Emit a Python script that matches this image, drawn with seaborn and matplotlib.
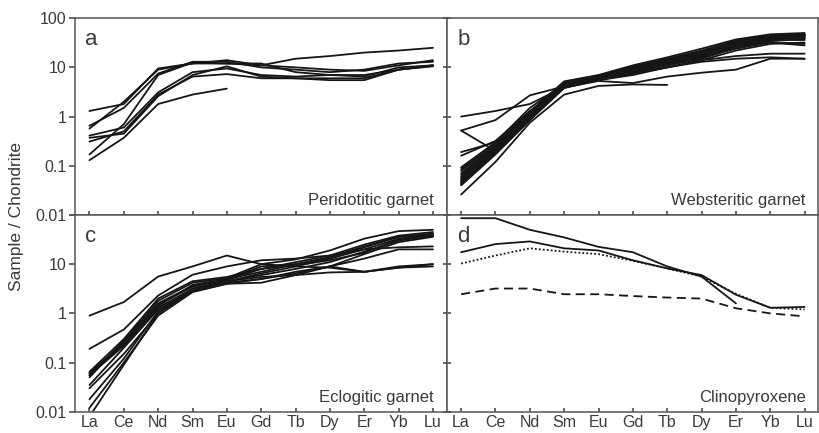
import numpy as np
import pandas as pd
import matplotlib
matplotlib.use("Agg")
import matplotlib.pyplot as plt
from matplotlib.ticker import FixedLocator, FixedFormatter, NullLocator
import seaborn as sns

# ── 데이터 ────────────────────────────────────────────────────────────────
ELEMENTS = ["La", "Ce", "Nd", "Sm", "Eu", "Gd", "Tb", "Dy", "Er", "Yb", "Lu"]
NAN = np.nan

peridotitic = [
    [1.3, 1.8, 9.5, 12, 12, 11, 15, 17, 20, 22, 25],
    [0.65, 1.5, 7.5, 13, 13, 10, 9, 8, 9, 12, 13],
    [0.57, 2.0, 9.0, 12, 14, 11, 10, 9, 8.5, 11, 14],
    [0.41, 0.6, 3.1, 8, 9.5, 7, 6.5, 7, 7, 9, 11],
    [0.31, 0.5, 2.8, 6.5, 7.3, 6, 6, 6, 6, 9, 11],
    [0.37, 0.45, 2.6, 7, 10.5, 6.5, 6, 5.5, 5.5, 9, 10.5],
    [0.17, 0.7, 7, 12.5, 12, 12, 8, 7, 6.5, 10, 11],
    [0.13, 0.37, 1.8, 2.8, 3.7, NAN, NAN, NAN, NAN, NAN, NAN],
]

websteritic = [
    [1.0, 1.3, 1.8, 4.0, 5.5, 7, 10, 14, 22, 30, 32],
    [0.52, 0.85, 2.7, 4.1, 5.6, 8, 12, 16, 25, 35, 38],
    [0.52, 0.2, 1.2, 4.5, 6.5, 9, 13, 19, 32, 42, 45],
    [0.19, 0.3, 1.5, 4.6, 6.2, 9.5, 13, 18, 30, 40, 44],
    [0.16, 0.32, 1.3, 4.3, 6.0, 8.5, 12, 17, 28, 36, 40],
    [0.093, 0.3, 1.25, 5.2, 7.0, 11, 16, 24, 37, 47, 50],
    [0.085, 0.28, 1.2, 5.0, 6.8, 10.5, 15, 22, 35, 45, 48],
    [0.078, 0.26, 1.15, 4.8, 6.6, 10, 14.5, 21, 34, 44, 47],
    [0.07, 0.25, 1.1, 4.7, 6.5, 10, 14, 20, 33, 43, 46],
    [0.065, 0.24, 1.05, 4.5, 6.3, 9.5, 13.5, 19, 32, 42, 45],
    [0.06, 0.23, 1.0, 4.4, 6.2, 9.5, 13, 19, 31, 41, 44],
    [0.057, 0.22, 1.0, 4.3, 6.0, 9, 12.5, 18, 30, 40, 42],
    [0.054, 0.21, 0.95, 4.2, 5.9, 9, 12, 17, 29, 38, 40],
    [0.05, 0.2, 0.95, 4.1, 5.8, 8.5, 12, 17, 28, 37, 38],
    [0.047, 0.19, 0.9, 4.0, 5.7, 8.5, 11.5, 16, 27, 36, 36],
    [0.044, 0.19, 0.9, 3.9, 5.6, 8, 11, 15, 25, 33, 30],
    [0.042, 0.18, 0.85, 4.0, 5.6, 8, 11, 16, 24, 32, 28],
    [0.04, 0.17, 0.85, 3.8, 5.5, 7.5, 10, 14, 17, 19, 19],
    [0.045, 0.2, 1.0, 4.0, 5.5, 7.5, 10, 13, 15, 16, 15],
    [0.05, 0.21, 1.0, 3.9, 5.3, 4.8, 6.5, 7.8, 9, 15, 15],
    [0.026, 0.12, 0.75, 2.8, 4.2, 4.5, 4.4, NAN, NAN, NAN, NAN],
]

eclogitic = [
    [0.9, 1.7, 5.6, 9, 15, 10, 9, 8.5, 7, 9, 10],
    [0.19, 0.47, 2.3, 6.1, 9, 12, 13, 15, 20, 22, 23],
    [0.065, 0.3, 2.0, 4.5, 5.5, 8, 11, 15, 25, 38, 45],
    [0.06, 0.26, 1.6, 3.6, 5, 7, 10, 14, 23, 36, 42],
    [0.055, 0.22, 1.3, 3.2, 4.5, 6, 8, 11, 18, 30, 38],
    [0.05, 0.28, 1.8, 4.2, 5.2, 10, 12.5, 19, 33, 47, 50],
    [0.035, 0.2, 1.2, 3.0, 4.2, 5, 7, 9, 13, 20, 20],
    [0.03, 0.15, 1.0, 2.8, 4.0, 4.2, 6, 6.8, 7, 8.5, 9],
    [0.018, 0.12, 1.1, 3.0, 4.5, 5.5, 6, 9, 7, 8.5, 10],
    [0.012, 0.1, 0.9, 2.7, 4.0, 5, 6.5, 9, 16, 28, 36],
    [0.008, 0.09, 1.0, 3.2, 4.5, 6.5, 9, 13, 20, 33, 40],
    [0.06, 0.25, 1.4, 3.8, 5, 9, 10, 13, 22, 36, 40],
    [0.055, 0.24, 1.5, 3.5, 4.8, 8, 9.5, 12, 17, 32, 38],
]

cpx_solid_1 = [86, 86, 50, 35, 22.5, 17.5, 9, 5.6, 1.6, NAN, NAN]
cpx_solid_2 = [17.5, 25.6, 29, 21, 19, 12, 8.2, 6.0, 2.4, 1.3, 1.35]
cpx_dotted = [10.3, 15, 21, 18, 16, 11.7, 8.2, 5.6, 2.5, 1.3, 1.2]
cpx_dashed = [2.45, 3.2, 3.2, 2.45, 2.45, 2.25, 2.1, 2.0, 1.27, 1.0, 0.87]

PANELS = [
    ("a", "Peridotitic garnet"),
    ("b", "Websteritic garnet"),
    ("c", "Eclogitic garnet"),
    ("d", "Clinopyroxene"),
]


def to_long(series_list, names=None):
    rows = []
    for i, vals in enumerate(series_list):
        name = names[i] if names else f"s{i}"
        for j, v in enumerate(vals):
            if not np.isnan(v):
                rows.append({"sample": name, "pos": j, "value": v})
    return pd.DataFrame(rows)


sns.set_theme(style="ticks")
plt.rcParams["font.family"] = ["Liberation Sans", "DejaVu Sans"]
TXT = "#3a3a3a"
SPINE = "#555555"

fig, axes = plt.subplots(2, 2, figsize=(8.2, 4.33), dpi=100)
fig.subplots_adjust(left=0.0915, right=0.998, top=0.958, bottom=0.049,
                    wspace=0, hspace=0)

datasets = [peridotitic, websteritic, eclogitic]
for ax, data in zip(axes.flat[:3], datasets):
    df = to_long(data)
    sns.lineplot(data=df, x="pos", y="value", units="sample", estimator=None,
                 color="#161616", linewidth=1.3, ax=ax, legend=False)

# 패널 d: 선 스타일 구분
ax_d = axes[1, 1]
df_d = to_long([cpx_solid_1, cpx_solid_2, cpx_dotted, cpx_dashed],
               names=["s1", "s2", "dot", "dash"])
sns.lineplot(data=df_d, x="pos", y="value", units="sample", estimator=None,
             style="sample",
             dashes={"s1": "", "s2": "", "dot": (1, 1.2), "dash": (5, 3)},
             color="#161616", linewidth=1.3, ax=ax_d, legend=False)

for idx, ax in enumerate(axes.flat):
    letter, name = PANELS[idx]
    ax.set_yscale("log")
    ax.set_ylim(0.01, 100)
    ax.set_xlim(-0.42, 10.4)
    ax.set_xlabel("")
    ax.set_ylabel("")
    ax.yaxis.set_major_locator(FixedLocator([0.01, 0.1, 1, 10, 100]))
    ax.yaxis.set_minor_locator(NullLocator())
    ax.xaxis.set_major_locator(FixedLocator(range(len(ELEMENTS))))
    ax.xaxis.set_major_formatter(FixedFormatter(ELEMENTS))
    for sp in ax.spines.values():
        sp.set_color(SPINE)
        sp.set_linewidth(1.1)
    ax.tick_params(axis="x", direction="in", length=3, color=SPINE,
                   labelsize=11.5, labelcolor=TXT, pad=2)
    ax.tick_params(axis="y", direction="out", length=4, color=SPINE,
                   labelsize=11.5, labelcolor=TXT, pad=2)
    if idx % 2 == 1:
        ax.tick_params(axis="y", direction="inout", length=6, labelleft=False)
    if idx < 2:
        ax.tick_params(axis="x", labelbottom=False)
    ax.text(0.028, 0.945, letter, transform=ax.transAxes, fontsize=16,
            color=TXT, va="top", ha="left")
    ax.text(0.966, 0.035, name, transform=ax.transAxes, fontsize=12,
            color=TXT, va="bottom", ha="right")

axes[0, 0].yaxis.set_major_formatter(
    FixedFormatter(["0.01", "0.1", "1", "10", "100"]))
axes[1, 0].yaxis.set_major_formatter(
    FixedFormatter(["0.01", "0.1", "1", "10", ""]))

fig.text(0.02, 0.5, "Sample / Chondrite", rotation=90, va="center",
         ha="center", fontsize=12.5, color=TXT)

fig.savefig("out.png", dpi=100, facecolor="white")
